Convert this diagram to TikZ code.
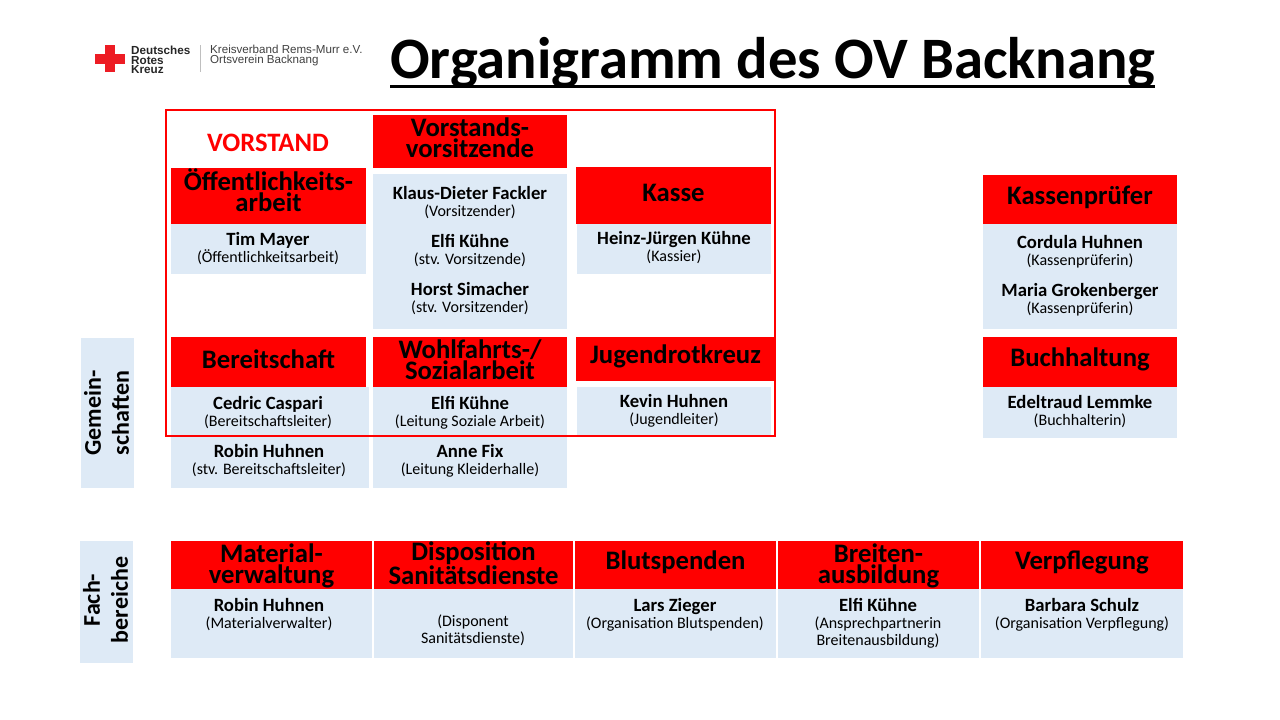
\documentclass[tikz,border=0pt]{standalone}
\usepackage{fontspec}
\setmainfont{Carlito}
\newfontfamily\logofont{Liberation Sans}
\definecolor{drkred}{RGB}{255,0,0}
\definecolor{crossred}{RGB}{237,28,36}
\definecolor{paleblue}{RGB}{222,234,246}
\tikzset{
  x=1pt,y=-1pt,
  headbox/.style={fill=drkred,draw=none,inner sep=0pt,align=center,text=black,font=\fontsize{26.7}{21}\selectfont\bfseries},
  bodybox/.style={fill=paleblue,draw=none,inner sep=0pt},
  sidebox/.style={fill=paleblue,draw=none,inner sep=0pt,align=center,rotate=90,font=\fontsize{24}{28}\selectfont\bfseries},
  persontext/.style={inner sep=0pt,align=center,text=black,font=\fontsize{16}{17}\selectfont},
  frameline/.style={draw=drkred,line width=1.6pt},
}
\newcommand{\headb}[7][-2.5]{\path[headbox] (#3,#4) rectangle (#5,#6);
  \node[headbox,fill=none] (#2) at ({(#3+#5)/2},{(#4+#6)/2+#1}) {#7};}
\newcommand{\bodyb}[5]{\path[bodybox] (#2,#3) rectangle (#4,#5);
  \coordinate (#1) at ({(#2+#4)/2},{(#3+#5)/2});}
\newcommand{\person}[5]{\node[persontext] (#1) at (#2,{#3+2}) {{\fontsize{18.7}{17}\selectfont\bfseries #4}\\#5};}
\begin{document}
\begin{tikzpicture}
\useasboundingbox (0,0) rectangle (1280,720);
% logo
\fill[crossred] (105,45) rectangle (115,72);
\fill[crossred] (95,54) rectangle (125,64);
\node[inner sep=0pt,align=left,anchor=west,font=\logofont\fontsize{11.7}{9.7}\selectfont\bfseries,text=black!85] (logoa) at (131,60) {Deutsches\\Rotes\\Kreuz};
\draw[black!25,line width=0.8pt] (200.5,45) -- (200.5,72);
\node[inner sep=0pt,align=left,anchor=west,font=\logofont\fontsize{11.6}{10}\selectfont,text=black!75] (logob) at (210,55.5) {Kreisverband Rems-Murr e.V.\\Ortsverein Backnang};
% title
\node[inner sep=0pt,anchor=base west,font=\fontsize{58.7}{58}\selectfont\bfseries] (title) at (390,78.5) {Organigramm des OV Backnang};
\draw[black,line width=3pt] (390,86.5) -- (1155,86.5);
% top groups
\node[inner sep=0pt,text=drkred,font=\fontsize{26.6}{28}\selectfont\bfseries] (vorstand) at (268,143) {VORSTAND};
\headb[-3.5]{hvv}{373}{115}{567}{168}{Vorstands-\\vorsitzende}
\bodyb{bvv}{373}{174}{567}{329}
\person{p1}{470}{201}{Klaus-Dieter Fackler}{(Vorsitzender)}
\person{p2}{470}{249}{Elfi Kühne}{(stv. Vorsitzende)}
\person{p3}{470}{297}{Horst Simacher}{(stv. Vorsitzender)}
\headb[-5.5]{hoe}{171}{168}{366}{224}{Öffentlichkeits-\\arbeit}
\bodyb{boe}{171}{224}{366}{274}
\person{p4}{268}{247}{Tim Mayer}{(Öffentlichkeitsarbeit)}
\headb{hka}{576}{167}{771}{224}{Kasse}
\bodyb{bka}{577}{224}{771}{274}
\person{p5}{674}{246}{Heinz-Jürgen Kühne}{(Kassier)}
\headb{hkp}{983}{175}{1177}{224}{Kassenprüfer}
\bodyb{bkp}{983}{224}{1177}{329}
\person{p6}{1080}{250}{Cordula Huhnen}{(Kassenprüferin)}
\person{p7}{1080}{298}{Maria Grokenberger}{(Kassenprüferin)}
% second row
\headb{hbe}{171}{337}{366}{387}{Bereitschaft}
\bodyb{bbe}{171}{387}{369}{488}
\person{p8}{268}{411}{Cedric Caspari}{(Bereitschaftsleiter)}
\person{p9}{269}{459}{Robin Huhnen}{(stv. Bereitschaftsleiter)}
\headb[-2]{hwo}{373}{337}{567}{387}{Wohlfahrts-/\\Sozialarbeit}
\bodyb{bwo}{373}{387}{567}{488}
\person{p10}{470}{411}{Elfi Kühne}{(Leitung Soziale Arbeit)}
\person{p11}{470}{459}{Anne Fix}{(Leitung Kleiderhalle)}
\headb{hjr}{576}{337}{775}{381}{Jugendrotkreuz}
\bodyb{bjr}{577}{387}{771}{436}
\person{p12}{674}{409}{Kevin Huhnen}{(Jugendleiter)}
\headb{hbu}{983}{337}{1177}{387}{Buchhaltung}
\bodyb{bbu}{983}{387}{1177}{438}
\person{p13}{1080}{410}{Edeltraud Lemmke}{(Buchhalterin)}
% frame
\draw[frameline] (166,110) rectangle (775,436);
% sides
\bodyb{bs1}{81}{338}{134}{488}
\node[sidebox,fill=none] (s1) at (106.5,413) {Gemein-\\schaften};
\bodyb{bs2}{80}{541}{133}{663}
\node[sidebox,fill=none] (s2) at (105.5,600) {Fach-\\bereiche};
% bottom row
\headb[1]{hma}{171}{541}{372}{589}{Material-\\verwaltung}
\bodyb{bma}{171}{589}{372}{658}
\person{p14}{269}{613}{Robin Huhnen}{(Materialverwalter)}
\headb[-1.5]{hdi}{374}{541}{573}{589}{Disposition\\Sanitätsdienste}
\bodyb{bdi}{374}{589}{573}{658}
\node[persontext] (p15) at (473,630.5) {(Disponent\\Sanitätsdienste)};
\headb{hbl}{575}{541}{776}{589}{Blutspenden}
\bodyb{bbl}{575}{589}{776}{658}
\person{p16}{675}{613}{Lars Zieger}{(Organisation Blutspenden)}
\headb[0.5]{hbr}{778}{541}{979}{589}{Breiten-\\ausbildung}
\bodyb{bbr}{778}{589}{979}{658}
\node[persontext] (p17) at (878,623) {{\fontsize{18.7}{17}\selectfont\bfseries Elfi Kühne}\\(Ansprechpartnerin\\Breitenausbildung)};
\headb{hve}{981}{541}{1183}{589}{Verpflegung}
\bodyb{bve}{981}{589}{1183}{658}
\person{p18}{1082}{613}{Barbara Schulz}{(Organisation Verpflegung)}
\end{tikzpicture}
\end{document}
